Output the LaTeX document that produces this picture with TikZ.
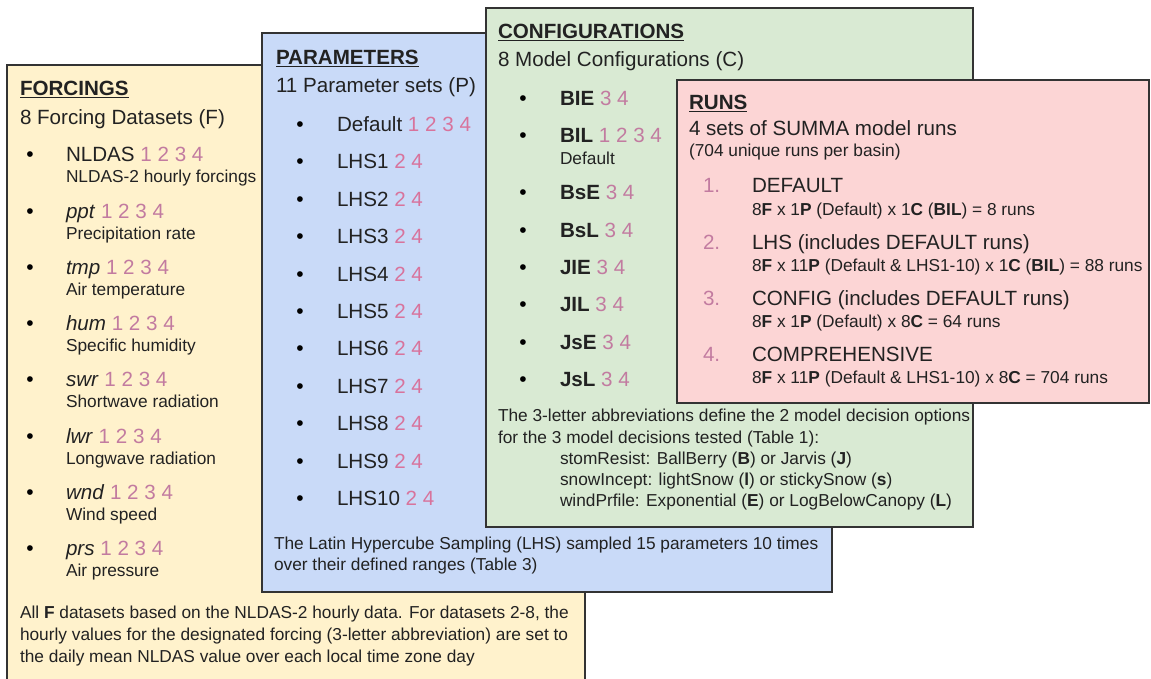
\documentclass[tikz,border=0pt]{standalone}
\usepackage{fontspec}
\setmainfont{Liberation Sans}
\definecolor{fY}{HTML}{FFF2CC}
\definecolor{fB}{HTML}{C9DAF8}
\definecolor{fG}{HTML}{D9EAD3}
\definecolor{fR}{HTML}{FCD5D5}
\definecolor{numC}{HTML}{C27BA0}
\definecolor{numP}{HTML}{D8739C}
\definecolor{txtC}{HTML}{222222}
\newcommand\nums[1]{\textcolor{numC}{#1}}
\newcommand\numsP[1]{\textcolor{numP}{#1}}
\newcommand\ttl[1]{\underline{\textbf{#1}}}
\tikzset{
  panel/.style={draw=black!80, line width=1.2pt},
  txt/.style={anchor=base west, inner sep=0pt, outer sep=0pt, text=txtC},
  big/.style={txt, font=\fontsize{20.6}{24}\selectfont},
  small/.style={txt, font=\fontsize{17.3}{20}\selectfont},
  note/.style={txt, font=\fontsize{17.3}{20}\selectfont},
  bul/.style={anchor=base, inner sep=0pt, outer sep=0pt, text=black, font=\fontsize{21}{24}\selectfont},
}
\begin{document}
\begin{tikzpicture}[x=1pt,y=-1pt]
\useasboundingbox (0,0) rectangle (1151,679);
\clip (0,0) rectangle (1151,679);
% ---------- FORCINGS ----------
\path[panel, fill=fY] (7,65) rectangle (585,700);
\node[big] (ftitle) at (20,96) {\ttl{FORCINGS}};
\node[big] (fsub) at (20,124.5) {8 Forcing Datasets (F)};
\foreach \lab/\sub/\y [count=\i] in {
  {NLDAS}/{NLDAS-2 hourly forcings}/162,
  {\textit{ppt}}/{Precipitation rate}/218.2,
  {\textit{tmp}}/{Air temperature}/274.4,
  {\textit{hum}}/{Specific humidity}/330.6,
  {\textit{swr}}/{Shortwave radiation}/386.8,
  {\textit{lwr}}/{Longwave radiation}/443,
  {\textit{wnd}}/{Wind speed}/499.2,
  {\textit{prs}}/{Air pressure}/555.4} {
  \node[bul] (fb\i) at (30,\y) {•};
  \node[big] (fl\i) at (66,\y) {\lab\ \nums{1 2 3 4}};
  \node[small] (fs\i) at (66,\y+21) {\sub};
}
\node[note] (fn1) at (20,618) {All \textbf{F} datasets based on the NLDAS-2 hourly data. For datasets 2-8, the};
\node[note] (fn2) at (20,640) {hourly values for the designated forcing (3-letter abbreviation) are set to};
\node[note] (fn3) at (20,662) {the daily mean NLDAS value over each local time zone day};
% ---------- PARAMETERS ----------
\path[panel, fill=fB] (262,33) rectangle (832,592);
\node[big] (ptitle) at (276,65) {\ttl{PARAMETERS}};
\node[big] (psub) at (276,93) {11 Parameter sets (P)};
\node[bul] (pb0) at (300,131.5) {•};
\node[big] (pl0) at (337,131.5) {Default \numsP{1 2 3 4}};
\foreach \i in {1,...,10} {
  \node[bul] (pb\i) at (300,131.5+37.4*\i) {•};
  \node[big] (pl\i) at (337,131.5+37.4*\i) {LHS\i\ \numsP{2 4}};
}
\node[note] (pn1) at (274,549) {The Latin Hypercube Sampling (LHS) sampled 15 parameters 10 times};
\node[note] (pn2) at (274,570) {over their defined ranges (Table 3)};
% ---------- CONFIGURATIONS ----------
\path[panel, fill=fG] (486,8) rectangle (973,527);
\node[big] (ctitle) at (498,38.5) {\ttl{CONFIGURATIONS}};
\node[big] (csub) at (498,67) {8 Model Configurations (C)};
\foreach \lab/\n/\y [count=\i] in {
  BIE/{3 4}/106, BIL/{1 2 3 4}/143, BsE/{3 4}/200, BsL/{3 4}/237,
  JIE/{3 4}/274, JIL/{3 4}/311.5, JsE/{3 4}/349, JsL/{3 4}/386.5} {
  \node[bul] (cb\i) at (523,\y) {•};
  \node[big] (cl\i) at (560,\y) {\textbf{\lab}\ \nums{\n}};
}
\node[small] (cdef) at (560,164.5) {Default};
\node[note] (cn1) at (498,421) {The 3-letter abbreviations define the 2 model decision options};
\node[note] (cn2) at (498,443) {for the 3 model decisions tested (Table 1):};
\node[note] (cn3) at (560,464.5) {stomResist: BallBerry (\textbf{B}) or Jarvis (\textbf{J})};
\node[note] (cn4) at (560,485.5) {snowIncept: lightSnow (\textbf{l}) or stickySnow (\textbf{s})};
\node[note] (cn5) at (560,506.5) {windPrfile: Exponential (\textbf{E}) or LogBelowCanopy (\textbf{L})};
% ---------- RUNS ----------
\path[panel, fill=fR] (677,80) rectangle (1149,403);
\node[big] (rtitle) at (689,110) {\ttl{RUNS}};
\node[big] (rsub) at (689,136) {4 sets of SUMMA model runs};
\node[small] (rsub2) at (689,157) {(704 unique runs per basin)};
\foreach \t/\s/\y [count=\i] in {
  {DEFAULT}/{8\textbf{F} x 1\textbf{P} (Default) x 1\textbf{C} (\textbf{BIL}) = 8 runs}/193,
  {LHS (includes DEFAULT runs)}/{8\textbf{F} x 11\textbf{P} (Default \& LHS1-10) x 1\textbf{C} (\textbf{BIL}) = 88 runs}/249,
  {CONFIG (includes DEFAULT runs)}/{8\textbf{F} x 1\textbf{P} (Default) x 8\textbf{C} = 64 runs}/305,
  {COMPREHENSIVE}/{8\textbf{F} x 11\textbf{P} (Default \& LHS1-10) x 8\textbf{C} = 704 runs}/361} {
  \node[big] (rn\i) at (703,\y) {\nums{\i.}};
  \node[big] (rt\i) at (752,\y) {\t};
  \node[small] (rs\i) at (752,\y+22) {\s};
}
\end{tikzpicture}
\end{document}
